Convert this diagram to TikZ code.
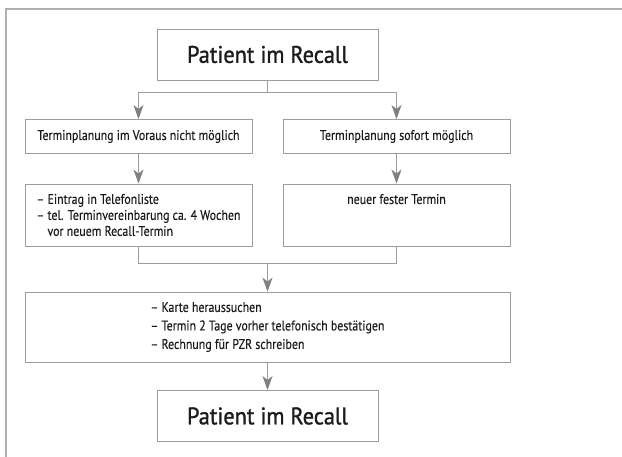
\documentclass[tikz,border=0pt]{standalone}
\usepackage{fontspec}
\setmainfont[FakeStretch=0.85, FakeBold=0.3]{PT Sans}
\newfontfamily\titlefont[FakeStretch=0.93, FakeBold=1.2]{PT Sans}
\usetikzlibrary{arrows.meta}
\definecolor{boxgray}{HTML}{9C9C9C}
\definecolor{arrowgray}{HTML}{808083}
\definecolor{textdark}{HTML}{1E1B1C}
\begin{document}
\begin{tikzpicture}[x=1pt, y=-1pt, inner sep=0pt,
		titlestyle/.style={draw=boxgray, line width=0.9pt, minimum width=221pt, minimum height=51pt,
			text=textdark, font=\titlefont\fontsize{24}{28}\selectfont},
		planstyle/.style={draw=boxgray, line width=0.9pt, minimum width=227pt, minimum height=34pt,
			text=textdark, font=\fontsize{14}{16}\selectfont},
		liststyle/.style={planstyle, minimum height=62pt, align=left},
		checkstyle/.style={planstyle, minimum width=485pt, minimum height=70pt, align=left,
			font=\fontsize{14}{18.5}\selectfont},
		linestyle/.style={draw=boxgray, line width=0.9pt},
		arrowstyle/.style={linestyle, -{Stealth[length=14pt, width=10pt, inset=4pt, fill=arrowgray, color=arrowgray]}}]

		\useasboundingbox (0,0) rectangle (622,457);
		\draw [boxgray!80, line width=1.4pt] (622,9) -- (6,9) -- (6,457);

		\node [titlestyle] (start) at (267.5,54.5) {Patient im Recall};
		\node [planstyle] (planl) at (138.5,136.5) {Terminplanung im Voraus nicht möglich};
		\node [planstyle] (planr) at (396.5,136.5) {Terminplanung sofort möglich};
		\node [liststyle] (listl) at (138.5,215) {– Eintrag in Telefonliste\\
			– tel. Terminvereinbarung ca. 4 Wochen\\
			\phantom{– }vor neuem Recall-Termin};
		\node [liststyle, align=center] (listr) at (396.5,215) {neuer fester Termin\\ \mbox{}\\ \mbox{}};
		\node [checkstyle] (check) at (267.5,327) {– Karte heraussuchen\\
			– Termin 2 Tage vorher telefonisch bestätigen\\
			– Rechnung für PZR schreiben};
		\node [titlestyle] (end) at (267.5,416) {Patient im Recall};

		\coordinate (split) at (267.5,92);
		\coordinate (join) at (267.5,263);

		\draw [linestyle] (start) -- (split);
		\draw [arrowstyle] (split) -| (planl);
		\draw [arrowstyle] (split) -| (planr);
		\draw [arrowstyle] (planl) -- (listl);
		\draw [arrowstyle] (planr) -- (listr);
		\draw [linestyle] (listl) |- (join);
		\draw [linestyle] (listr) |- (join);
		\draw [arrowstyle] (join) -- (check);
		\draw [arrowstyle] (check) -- (end);
\end{tikzpicture}
\end{document}
